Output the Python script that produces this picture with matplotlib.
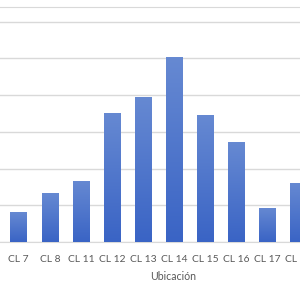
import numpy as np
import matplotlib
matplotlib.use('Agg')
import matplotlib.pyplot as plt
from matplotlib.colors import LinearSegmentedColormap

# data (grid step = 10)
labels = ['CL 7', 'CL 8', 'CL 11', 'CL 12', 'CL 13', 'CL 14', 'CL 15', 'CL 16', 'CL 17', 'CL 18']
values = [8.1, 13.3, 16.7, 35.2, 39.6, 50.3, 34.6, 27.1, 9.3, 16.2]
grid_ticks = [0, 10, 20, 30, 40, 50, 60]

plt.rcParams['font.family'] = ['Lato', 'DejaVu Sans']
txt = '#595959'

fig = plt.figure(figsize=(3, 3), dpi=100)
ax = fig.add_axes([0, 58 / 300, 1, 235 / 300])

x = np.arange(len(labels))
bars = ax.bar(x, values, width=0.53, color='none', zorder=3)

# vertical gradient in each bar, lighter on top
cmap = LinearSegmentedColormap.from_list('bl', ['#3A64C5', '#6689D2'])
grad = np.linspace(0, 1, 100).reshape(-1, 1)
for b in bars:
    x0, y0 = b.get_x(), b.get_y()
    im = ax.imshow(grad, cmap=cmap, origin='lower', aspect='auto',
                   extent=[x0, x0 + b.get_width(), y0, y0 + b.get_height()], zorder=3)
    im.set_clip_path(b)

ax.set_xlim(-0.60, 9.045)
ax.set_ylim(0, 64)
ax.set_yticks(grid_ticks)
ax.yaxis.grid(True, color='#D9D9D9', lw=1)
ax.set_axisbelow(True)
ax.tick_params(left=False, labelleft=False, bottom=False)
ax.set_xticks(x)
ax.set_xticklabels(labels, fontsize=7.4, color=txt)
ax.tick_params(axis='x', pad=6)
for s in ['left', 'right']:
    ax.spines[s].set_visible(False)
ax.spines['bottom'].set_color('#D9D9D9')
ax.spines['top'].set_color('#D9D9D9')

fig.text(173 / 300, 1 - 277 / 300, 'Ubicación', ha='center', va='center', fontsize=7.6, color=txt)

fig.savefig('out.png', dpi=100)
